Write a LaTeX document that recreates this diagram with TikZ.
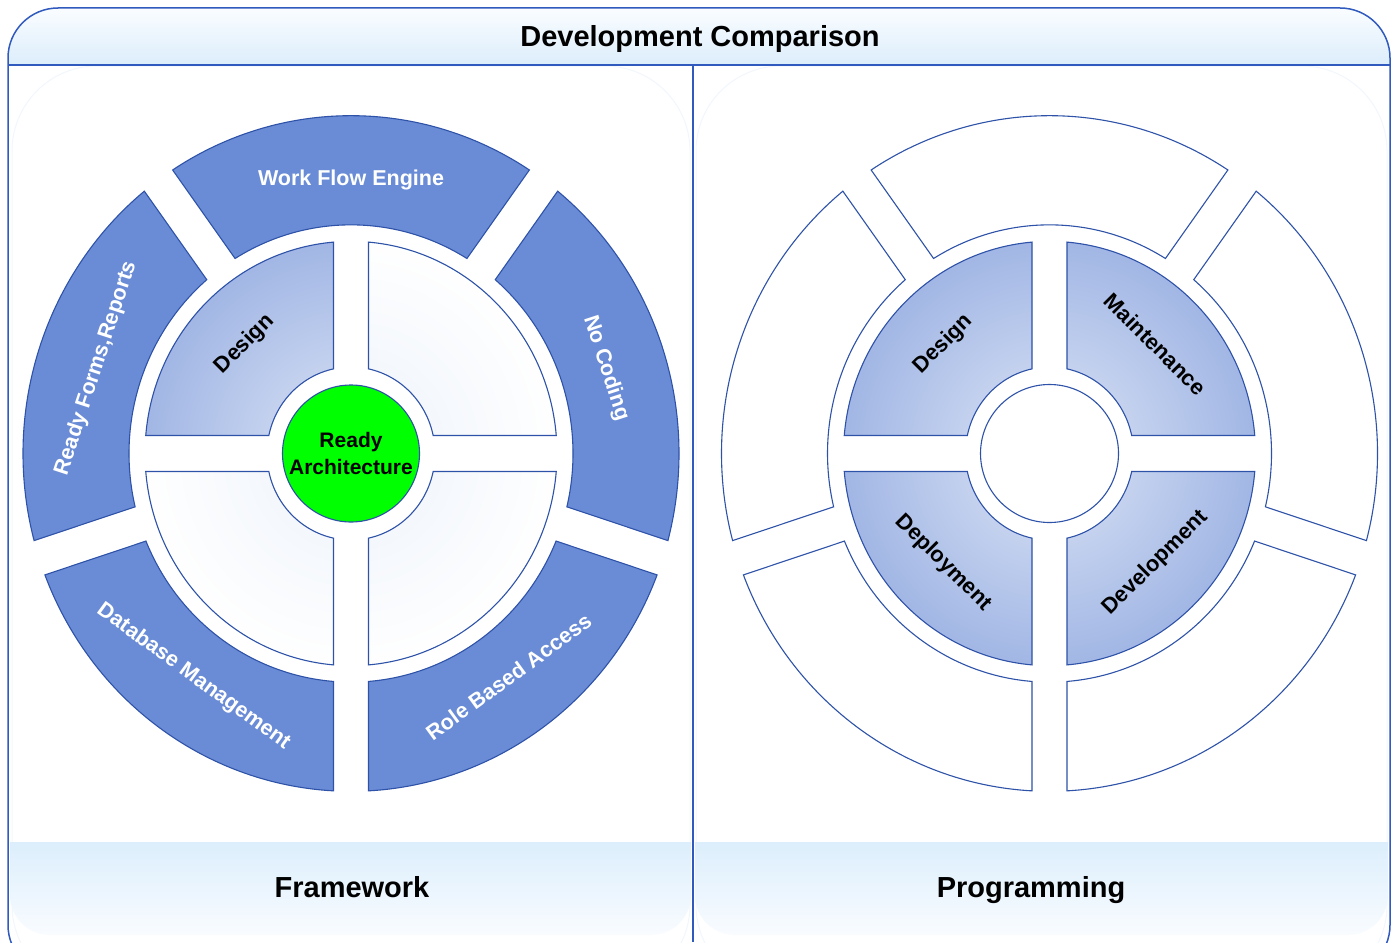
\documentclass[tikz,border=0pt]{standalone}
\usepackage{fontspec}
\setmainfont{Liberation Sans}
\definecolor{segfill}{RGB}{106,140,214}
\definecolor{segline}{RGB}{46,82,168}
\definecolor{frameblue}{RGB}{48,90,190}
\definecolor{qdark}{RGB}{160,181,228}
\definecolor{qlight}{RGB}{220,229,246}
\definecolor{qfaint}{RGB}{236,242,250}
\definecolor{hdrtop}{RGB}{250,253,255}
\definecolor{hdrbot}{RGB}{220,237,251}
\definecolor{bandtop}{RGB}{220,238,252}
\definecolor{bandbot}{RGB}{249,252,255}
\definecolor{panelfaint}{RGB}{242,247,253}
\definecolor{readygreen}{RGB}{0,255,0}
\newcommand\rsshape[5]{%
  \pgfmathsetmacro\rsA{#1+asin(17.5/#4)}%
  \pgfmathsetmacro\rsB{#2-asin(17.5/#4)}%
  \pgfmathsetmacro\rsC{#2-asin(17.5/#3)}%
  \pgfmathsetmacro\rsD{#1+asin(17.5/#3)}%
  #5 (\rsA:#4) arc[start angle=\rsA, end angle=\rsB, radius=#4] -- (\rsC:#3) arc[start angle=\rsC, end angle=\rsD, radius=#3] -- cycle;}
\newcommand\quadshade[4]{%
  \begin{scope}
    \rsshape{#1}{#2}{84}{206}{\clip}
    \shade[inner color=#3, outer color=#4] (0,0) circle (212);
  \end{scope}
  \rsshape{#1}{#2}{84}{206}{\draw[segedge]}}
\tikzset{
  segedge/.style={draw=segline, line width=1.1pt},
  blueseg/.style={segedge, fill=segfill},
  whiteseg/.style={segedge, fill=white},
  lblw/.style={text=white, font=\fontsize{21.5}{24}\selectfont\bfseries, inner sep=0pt},
  lblk/.style={text=black, font=\fontsize{22}{24}\selectfont\bfseries, inner sep=0pt},
  bigtxt/.style={text=black, font=\fontsize{29}{34}\selectfont\bfseries, inner sep=0pt, anchor=base},
}
\begin{document}
\begin{tikzpicture}[x=1pt,y=1pt]
\useasboundingbox (0,0) rectangle (1396,-942);
\clip (0,0) rectangle (1396,-942);
% frame background
\fill[white, rounded corners=50] (8,-8) rectangle (1390,-975);
% faint panel backgrounds
\draw[panelfaint, line width=1pt, rounded corners=85] (12,-66) rectangle (690,-990);
\draw[panelfaint, line width=1pt, rounded corners=85] (696,-66) rectangle (1387,-990);
% header
\begin{scope}
  \clip[rounded corners=50] (8,-8) rectangle (1390,-200);
  \shade[top color=hdrtop, bottom color=hdrbot] (8,-8) rectangle (1390,-65);
\end{scope}
% bottom bands
\begin{scope}
  \clip (10,-842) rectangle (691,-942);
  \clip[rounded corners=40] (10,-760) rectangle (691,-935);
  \shade[top color=bandtop, bottom color=bandbot] (10,-842) rectangle (691,-935);
\end{scope}
\begin{scope}
  \clip (695,-842) rectangle (1388,-942);
  \clip[rounded corners=40] (695,-760) rectangle (1388,-935);
  \shade[top color=bandtop, bottom color=bandbot] (695,-842) rectangle (1388,-935);
\end{scope}
% frame lines
\draw[frameblue, line width=1.5pt, rounded corners=50] (8,-8) rectangle (1390,-975);
\draw[frameblue, line width=1.5pt] (8,-65) -- (1390,-65);
\draw[frameblue, line width=1.5pt] (693,-65) -- (693,-942);
\node[bigtxt] (title) at (700,-46) {Development Comparison};
\node[bigtxt] (fw) at (352,-897.5) {Framework};
\node[bigtxt] (pg) at (1031,-897.5) {Programming};

% ===== left wheel =====
\begin{scope}[shift={(351,-453.5)}, yscale=1.03]
  \rsshape{-18}{54}{222}{328}{\path[blueseg]}
  \rsshape{54}{126}{222}{328}{\path[blueseg]}
  \rsshape{126}{198}{222}{328}{\path[blueseg]}
  \rsshape{198}{270}{222}{328}{\path[blueseg]}
  \rsshape{270}{342}{222}{328}{\path[blueseg]}
  \quadshade{90}{180}{qlight}{qdark}
  \quadshade{0}{90}{qfaint}{white}
  \quadshade{180}{270}{qfaint}{white}
  \quadshade{270}{360}{qfaint}{white}
  \node[lblw] (wfe) at (90:266) {Work Flow Engine};
  \node[lblw, rotate=-72] (nc) at (18:268) {No Coding};
  \node[lblw, rotate=72] (rfr) at (162:268) {Ready Forms,Reports};
  \node[lblw, rotate=-36] (dbm) at (234:268) {Database Management};
  \node[lblw, rotate=36] (rba) at (306:268) {Role Based Access};
  \node[lblk, rotate=45] (ld) at (135:150) {Design};
  \node[circle, draw=segline, line width=1.1pt, fill=readygreen, minimum size=137pt, inner sep=0pt, align=center, font=\fontsize{21}{27}\selectfont\bfseries] (ra) at (0,0) {Ready\\Architecture};
\end{scope}

% ===== right wheel =====
\begin{scope}[shift={(1049.5,-453.5)}, yscale=1.03]
  \rsshape{-18}{54}{222}{328}{\path[whiteseg]}
  \rsshape{54}{126}{222}{328}{\path[whiteseg]}
  \rsshape{126}{198}{222}{328}{\path[whiteseg]}
  \rsshape{198}{270}{222}{328}{\path[whiteseg]}
  \rsshape{270}{342}{222}{328}{\path[whiteseg]}
  \quadshade{90}{180}{qlight}{qdark}
  \quadshade{0}{90}{qlight}{qdark}
  \quadshade{180}{270}{qlight}{qdark}
  \quadshade{270}{360}{qlight}{qdark}
  \node[circle, draw=segline, line width=1.1pt, fill=white, minimum size=138pt, inner sep=0pt] (hub) at (0,0) {};
  \node[lblk, rotate=45] (rd) at (135:150) {Design};
  \node[lblk, rotate=-45] (rm) at (45:150) {Maintenance};
  \node[lblk, rotate=-45] (rdp) at (225:150) {Deployment};
  \node[lblk, rotate=45] (rdv) at (315:150) {Development};
\end{scope}
\end{tikzpicture}
\end{document}
